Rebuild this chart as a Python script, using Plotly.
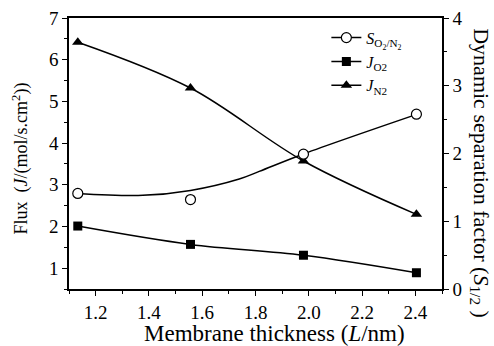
import plotly.graph_objects as go

# Data
thickness = [1.133, 1.556, 1.98, 2.404]          # membrane thickness L / nm
j_o2 = [2.01, 1.57, 1.31, 0.89]                  # flux J_O2 (left axis)
j_n2 = [6.42, 5.32, 3.57, 2.29]                  # flux J_N2 (left axis)
s_o2n2 = [1.41, 1.32, 1.99, 2.58]                # separation factor (right axis)

# smooth fitted curve drawn for S in the reference
s_fit_x = [1.130, 1.377, 1.556, 1.739, 1.814, 1.980, 2.405]
s_fit_y = [1.41, 1.382, 1.455, 1.624, 1.736, 1.993, 2.577]

x_ticks = [1.2, 1.4, 1.6, 1.8, 2.0, 2.2, 2.4]
x_tick_text = ["1.2", "1.4", "1.6", "1.8", "2.0", "2.2", "2.4"]

FONT = "Liberation Serif, Times New Roman, serif"
BLACK = "black"

fig = go.Figure()

# S curve (no legend) + markers
fig.add_trace(go.Scatter(x=s_fit_x, y=s_fit_y, mode="lines", yaxis="y2",
                         line=dict(color=BLACK, width=1.5, shape="spline"),
                         showlegend=False, hoverinfo="skip"))
fig.add_trace(go.Scatter(x=thickness, y=s_o2n2, mode="markers", yaxis="y2",
                         marker=dict(symbol="circle", size=10, color="white",
                                     line=dict(color=BLACK, width=1.2)),
                         showlegend=False))
# legend entry for S
fig.add_trace(go.Scatter(x=[None], y=[None], mode="lines+markers",
                         name="<i>S</i><sub>O<sub>2</sub>/N<sub>2</sub></sub>",
                         line=dict(color=BLACK, width=1.5),
                         marker=dict(symbol="circle", size=10, color="white",
                                     line=dict(color=BLACK, width=1.2))))
fig.add_trace(go.Scatter(x=thickness, y=j_o2, mode="lines+markers",
                         name="<i>J</i><sub>O2</sub>",
                         line=dict(color=BLACK, width=1.5, shape="spline"),
                         marker=dict(symbol="square", size=9, color=BLACK)))
fig.add_trace(go.Scatter(x=thickness, y=j_n2, mode="lines+markers",
                         name="<i>J</i><sub>N2</sub>",
                         line=dict(color=BLACK, width=1.5, shape="spline"),
                         marker=dict(symbol="triangle-up", size=10, color=BLACK)))

axis_common = dict(showgrid=False, zeroline=False, showline=True, linecolor=BLACK,
                   linewidth=1.5, ticks="outside", ticklen=5, tickwidth=1.2,
                   tickcolor=BLACK, tickfont=dict(family=FONT, size=19, color=BLACK),
                   automargin=False)

fig.update_layout(
    width=494, height=346,
    margin=dict(l=69, r=52, t=18, b=57),
    paper_bgcolor="white", plot_bgcolor="white",
    font=dict(family=FONT, color=BLACK),
    xaxis=dict(range=[1.1, 2.5], tickvals=x_ticks, ticktext=x_tick_text,
               mirror=True,
               minor=dict(dtick=0.1, tick0=1.1, ticks="outside", ticklen=3,
                          tickcolor=BLACK, tickwidth=1.2),
               **axis_common),
    yaxis=dict(range=[0.5, 7], dtick=1, tick0=0,
               minor=dict(dtick=0.5, tick0=0, ticks="outside", ticklen=3,
                          tickcolor=BLACK, tickwidth=1.2),
               **axis_common),
    yaxis2=dict(range=[0, 4], dtick=1, tick0=0, overlaying="y", side="right",
                minor=dict(dtick=0.5, tick0=0, ticks="outside", ticklen=3,
                           tickcolor=BLACK, tickwidth=1.2),
                **axis_common),
    legend=dict(x=0.69, y=0.99, xanchor="left", yanchor="top",
                bgcolor="rgba(0,0,0,0)", font=dict(family=FONT, size=16, color=BLACK),
                tracegroupgap=0, itemwidth=30),
    showlegend=True,
    annotations=[
        dict(text="Membrane thickness (<i>L</i>/nm)", xref="paper", yref="paper",
             x=0.55, y=-0.11, xanchor="center", yanchor="top", showarrow=False,
             font=dict(family=FONT, size=23, color=BLACK)),
        dict(text="Flux  (<i>J</i>/(mol/s.cm<sup>2</sup>))", xref="paper", yref="paper",
             x=-0.13, y=0.48, xanchor="center", yanchor="middle", showarrow=False,
             textangle=-90, font=dict(family=FONT, size=18, color=BLACK)),
        dict(text="Dynamic separation factor (<i>S</i><sub>1/2</sub> )", xref="paper",
             yref="paper", x=1.102, y=0.427, xanchor="center", yanchor="middle",
             showarrow=False, textangle=90, font=dict(family=FONT, size=22, color=BLACK)),
    ],
)

fig.write_html("out.html", config={"displayModeBar": False},
               post_script="document.body.style.margin='0';document.body.style.padding='0';")
